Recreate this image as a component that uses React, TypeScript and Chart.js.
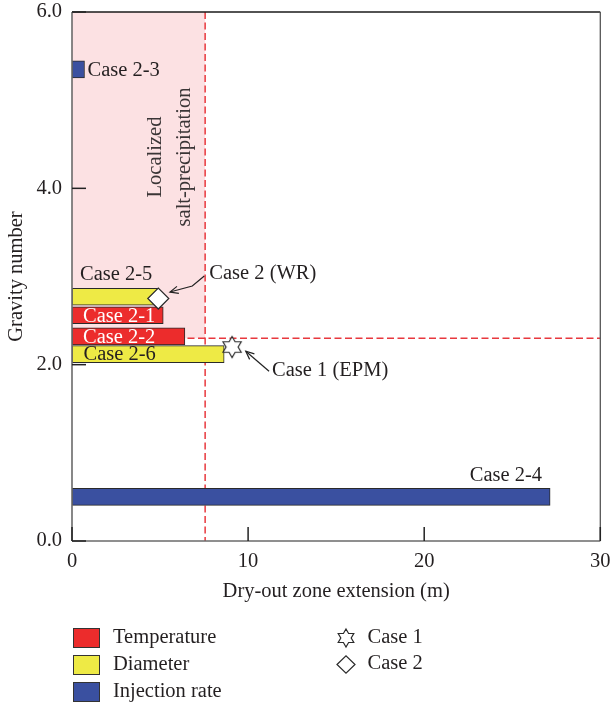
import { useEffect, useRef } from 'react';
import { Chart, registerables } from 'chart.js';

Chart.register(...registerables);

// ---------------- data ----------------
const temperatureCases = ['Case 2-1', 'Case 2-2'];
const temperatureExtension = [5.18, 6.41];
const temperatureGravity = [2.56, 2.32];

const diameterCases = ['Case 2-5', 'Case 2-6'];
const diameterExtension = [4.9, 8.64];
const diameterGravity = [2.77, 2.12];

const injectionCases = ['Case 2-3', 'Case 2-4'];
const injectionExtension = [0.71, 27.15];
const injectionGravity = [5.35, 0.5];

const markerLabels = ['Case 1', 'Case 2'];
const markerAnnotations = ['Case 1 (EPM)', 'Case 2 (WR)'];
const markerExtension = [9.09, 4.9];
const markerGravity = [2.2, 2.75];

const saltLimitExtension = 7.56;
const saltLimitGravity = 2.3;
const saltRegionText = ['Localized', 'salt-precipitation'];

const xTickValues = [0, 10, 20, 30];
const yTickValues = [0, 2, 4, 6];
const xTitle = 'Dry-out zone extension (m)';
const yTitle = 'Gravity number';
const seriesLabels = ['Temperature', 'Diameter', 'Injection rate'];

// ---------------- styles ----------------
const FONT_FAMILY = '"Liberation Serif", "Times New Roman", serif';
const FS = 20.5;
const TEXT = '#231f20';
const EDGE = '#2a2a2a';
const RED = '#ec2c2c';
const YELLOW = '#eeea45';
const BLUE = '#3a50a0';
const PINK = '#fce1e3';
const DASH_RED = '#e8383e';
const seriesColors = [RED, YELLOW, BLUE];

// label placement for each bar (style only)
type Place = { mode: 'right' | 'aboveStart' | 'insideStart' | 'aboveEnd'; color: string; dx: number; dy: number };
const temperaturePlace: Place[] = [
  { mode: 'insideStart', color: '#ffffff', dx: 11, dy: 0 },
  { mode: 'insideStart', color: '#ffffff', dx: 11, dy: 0 },
];
const diameterPlace: Place[] = [
  { mode: 'aboveStart', color: TEXT, dx: 8, dy: -23 },
  { mode: 'insideStart', color: TEXT, dx: 11.5, dy: 0 },
];
const injectionPlace: Place[] = [
  { mode: 'right', color: TEXT, dx: 3, dy: 0 },
  { mode: 'aboveEnd', color: TEXT, dx: -8, dy: -22 },
];
// annotation arrow geometry relative to marker pixel (style only)
const annotationLayout = [
  { path: [[13.7, 4.2], [37, 24.2]], text: [40, 22.5] },
  { path: [[11.7, -6.5], [34, -12.5], [46, -22.5]], text: [51, -25.5] },
];

function font(size = FS) {
  return `${size}px ${FONT_FAMILY}`;
}

function hexagramPath(ctx: CanvasRenderingContext2D, cx: number, cy: number, R: number) {
  const r = R / Math.sqrt(3);
  ctx.beginPath();
  for (let k = 0; k < 12; k++) {
    const ang = -Math.PI / 2 + (k * Math.PI) / 6;
    const rad = k % 2 === 0 ? R : r;
    const px = cx + rad * Math.cos(ang);
    const py = cy + rad * Math.sin(ang);
    if (k === 0) ctx.moveTo(px, py);
    else ctx.lineTo(px, py);
  }
  ctx.closePath();
}

function diamondPath(ctx: CanvasRenderingContext2D, cx: number, cy: number, hw: number, hh: number) {
  ctx.beginPath();
  ctx.moveTo(cx - hw, cy);
  ctx.lineTo(cx, cy - hh);
  ctx.lineTo(cx + hw, cy);
  ctx.lineTo(cx, cy + hh);
  ctx.closePath();
}

function drawArrow(ctx: CanvasRenderingContext2D, pts: number[][]) {
  ctx.beginPath();
  ctx.moveTo(pts[0][0], pts[0][1]);
  for (let i = 1; i < pts.length; i++) ctx.lineTo(pts[i][0], pts[i][1]);
  ctx.stroke();
  const [tx, ty] = pts[0];
  const [sx, sy] = pts[1];
  const a = Math.atan2(ty - sy, tx - sx);
  const L = 9;
  const sp = 0.42;
  ctx.beginPath();
  ctx.moveTo(tx - L * Math.cos(a - sp), ty - L * Math.sin(a - sp));
  ctx.lineTo(tx, ty);
  ctx.lineTo(tx - L * Math.cos(a + sp), ty - L * Math.sin(a + sp));
  ctx.stroke();
}

const zeroPadding = (s: any) => {
  s.paddingTop = 0;
  s.paddingBottom = 0;
  s.paddingLeft = 0;
  s.paddingRight = 0;
};

export default function App() {
  const ref = useRef<HTMLCanvasElement>(null);

  useEffect(() => {
    const canvas = ref.current;
    if (!canvas) return;

    const starImg = document.createElement('canvas');
    starImg.width = 26;
    starImg.height = 26;
    {
      const sctx = starImg.getContext('2d')!;
      hexagramPath(sctx, 13, 13, 10.5);
      sctx.fillStyle = '#ffffff';
      sctx.fill();
      sctx.strokeStyle = EDGE;
      sctx.lineWidth = 1.2;
      sctx.stroke();
    }

    const groups = [
      { names: temperatureCases, place: temperaturePlace },
      { names: diameterCases, place: diameterPlace },
      { names: injectionCases, place: injectionPlace },
    ];
    const BAR_OFFSET = 2; // bar datasets follow the two marker datasets

    const barSet = (label: string, ext: number[], grav: number[], color: string) => ({
      type: 'bar' as const,
      label,
      data: ext.map((v, i) => ({ x: v, y: grav[i] })),
      backgroundColor: color,
      borderColor: EDGE,
      borderWidth: 1,
      borderSkipped: false,
      barThickness: 17,
      grouped: false,
      indexAxis: 'y' as const,
      order: 1,
    });

    const decor = {
      id: 'decor',
      beforeDatasetsDraw(chart: any) {
        const { ctx, chartArea: a } = chart;
        const x = chart.scales.x;
        const y = chart.scales.y;
        const px = x.getPixelForValue(saltLimitExtension);
        const py = y.getPixelForValue(saltLimitGravity);
        const x0 = x.getPixelForValue(0);
        const yTop = y.getPixelForValue(y.max);
        ctx.save();
        ctx.fillStyle = PINK;
        ctx.fillRect(x0, yTop, px - x0, py - yTop);

        // rotated region text
        ctx.fillStyle = '#3a3536';
        ctx.font = font(FS);
        ctx.textAlign = 'center';
        ctx.textBaseline = 'middle';
        const cy = a.top + 145;
        ctx.save();
        ctx.translate(px - 50, cy);
        ctx.rotate(-Math.PI / 2);
        ctx.fillText(saltRegionText[0], 0, 0);
        ctx.restore();
        ctx.save();
        ctx.translate(px - 21, cy);
        ctx.rotate(-Math.PI / 2);
        ctx.fillText(saltRegionText[1], 0, 0);
        ctx.restore();

        // dashed limits
        ctx.strokeStyle = DASH_RED;
        ctx.lineWidth = 1.5;
        ctx.setLineDash([7, 3.5]);
        ctx.beginPath();
        ctx.moveTo(px, a.top);
        ctx.lineTo(px, a.bottom);
        ctx.stroke();
        ctx.beginPath();
        ctx.moveTo(a.left, py);
        ctx.lineTo(a.right, py);
        ctx.stroke();
        ctx.restore();
      },
      afterDatasetsDraw(chart: any) {
        const { ctx, chartArea: a } = chart;
        const x = chart.scales.x;
        const y = chart.scales.y;
        ctx.save();
        // frame
        const seg = (x1: number, y1: number, x2: number, y2: number, c: string, w: number) => {
          ctx.strokeStyle = c;
          ctx.lineWidth = w;
          ctx.beginPath();
          ctx.moveTo(x1, y1);
          ctx.lineTo(x2, y2);
          ctx.stroke();
        };
        seg(a.left, a.top, a.right, a.top, '#1a1a1a', 1.3);
        seg(a.right, a.top, a.right, a.bottom, '#555', 1.3);
        seg(a.left, a.bottom, a.right, a.bottom, '#6a6a6a', 1.6);
        seg(a.left, a.top, a.left, a.bottom, '#6a6a6a', 1.6);
        // inward ticks
        yTickValues.forEach((v) => {
          const py = y.getPixelForValue(v);
          seg(a.left, py, a.left + 14, py, '#222', 1.5);
        });
        xTickValues.forEach((v) => {
          const px = x.getPixelForValue(v);
          seg(px, a.bottom, px, a.bottom - 14, '#222', 1.5);
        });

        // bar labels
        ctx.font = font(FS);
        ctx.textBaseline = 'middle';
        groups.forEach((g, di) => {
          const meta = chart.getDatasetMeta(di + BAR_OFFSET);
          meta.data.forEach((el: any, i: number) => {
            const p = g.place[i];
            ctx.fillStyle = p.color;
            let tx = 0;
            if (p.mode === 'right') {
              ctx.textAlign = 'left';
              tx = el.x + p.dx;
            } else if (p.mode === 'aboveEnd') {
              ctx.textAlign = 'right';
              tx = el.x + p.dx;
            } else {
              ctx.textAlign = 'left';
              tx = el.base + p.dx;
            }
            ctx.fillText(g.names[i], tx, el.y + p.dy + 1);
          });
        });

        // marker annotations
        ctx.strokeStyle = '#222';
        ctx.lineWidth = 1.2;
        ctx.fillStyle = TEXT;
        ctx.textAlign = 'left';
        markerAnnotations.forEach((txt, i) => {
          const mx = x.getPixelForValue(markerExtension[i]);
          const my = y.getPixelForValue(markerGravity[i]);
          const lay = annotationLayout[i];
          drawArrow(ctx, lay.path.map(([dx, dy]) => [mx + dx, my + dy]));
          ctx.fillText(txt, mx + lay.text[0], my + lay.text[1] + 1);
        });
        ctx.restore();
      },
      afterDraw(chart: any) {
        const { ctx } = chart;
        ctx.save();
        ctx.font = font(FS);
        ctx.textBaseline = 'middle';
        ctx.textAlign = 'left';
        seriesLabels.forEach((lab, i) => {
          const top = 628 + i * 27;
          ctx.fillStyle = seriesColors[i];
          ctx.fillRect(73, top, 27, 20);
          ctx.strokeStyle = '#333';
          ctx.lineWidth = 1;
          ctx.strokeRect(73.5, top + 0.5, 26, 19);
          ctx.fillStyle = TEXT;
          ctx.fillText(lab, 113, top + 10);
        });
        // markers legend
        ctx.strokeStyle = EDGE;
        ctx.lineWidth = 1.2;
        hexagramPath(ctx, 346, 638, 9);
        ctx.fillStyle = '#fff';
        ctx.fill();
        ctx.stroke();
        diamondPath(ctx, 346, 664.5, 9, 8.7);
        ctx.fill();
        ctx.stroke();
        ctx.fillStyle = TEXT;
        ctx.fillText(markerLabels[0], 367.5, 637.5);
        ctx.fillText(markerLabels[1], 367.5, 664);
        ctx.restore();
      },
    };

    const chart = new Chart(canvas, {
      type: 'bar',
      data: {
        datasets: [
          {
            type: 'scatter',
            label: markerLabels[0],
            data: [{ x: markerExtension[0], y: markerGravity[0] }],
            pointStyle: starImg as any,
            pointRadius: 10,
            order: 0,
          } as any,
          {
            type: 'scatter',
            label: markerLabels[1],
            data: [{ x: markerExtension[1], y: markerGravity[1] }],
            pointStyle: 'rectRot',
            pointRadius: 10.5,
            backgroundColor: '#ffffff',
            borderColor: EDGE,
            borderWidth: 1.2,
            order: 0,
          } as any,
          barSet(seriesLabels[0], temperatureExtension, temperatureGravity, RED),
          barSet(seriesLabels[1], diameterExtension, diameterGravity, YELLOW),
          barSet(seriesLabels[2], injectionExtension, injectionGravity, BLUE),
        ] as any,
      },
      options: {
        animation: false,
        responsive: true,
        maintainAspectRatio: false,
        indexAxis: 'y',
        events: [],
        layout: { padding: { top: 12, right: 10, bottom: 100, left: 0 } },
        plugins: { legend: { display: false }, tooltip: { enabled: false } },
        scales: {
          x: {
            type: 'linear',
            position: 'bottom',
            min: 0,
            max: 30,
            afterBuildTicks: (s: any) => {
              s.ticks = xTickValues.map((v) => ({ value: v }));
            },
            ticks: {
              color: TEXT,
              font: { family: FONT_FAMILY, size: FS },
              padding: 8,
              maxRotation: 0,
              autoSkip: false,
              callback: (v: any) => String(v),
            },
            grid: { display: false, drawTicks: false },
            border: { display: false },
            title: {
              display: true,
              text: xTitle,
              color: TEXT,
              font: { family: FONT_FAMILY, size: FS },
              padding: { top: 1, bottom: 1 },
            },
            afterFit: (s: any) => {
              s.height = 64;
              zeroPadding(s);
            },
          },
          y: {
            type: 'linear',
            position: 'left',
            min: 0,
            max: 6,
            offset: false,
            afterBuildTicks: (s: any) => {
              s.ticks = yTickValues.map((v) => ({ value: v }));
            },
            ticks: {
              color: TEXT,
              font: { family: FONT_FAMILY, size: FS },
              padding: 10,
              autoSkip: false,
              callback: (v: any) => Number(v).toFixed(1),
            },
            grid: { display: false, drawTicks: false },
            border: { display: false },
            title: {
              display: true,
              text: yTitle,
              color: TEXT,
              font: { family: FONT_FAMILY, size: FS },
              padding: { top: 4, bottom: 4 },
            },
            afterFit: (s: any) => {
              s.width = 72;
              zeroPadding(s);
            },
          },
        },
      } as any,
      plugins: [decor],
    });

    return () => chart.destroy();
  }, []);

  return (
    <div style={{ position: 'absolute', left: 0, top: 0, width: 612, height: 705 }}>
      <canvas ref={ref} />
    </div>
  );
}
